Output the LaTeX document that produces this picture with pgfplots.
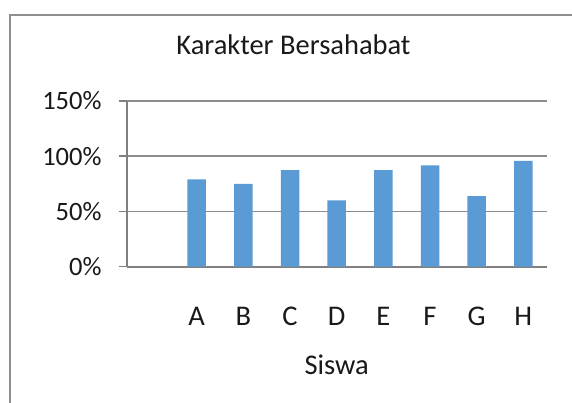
\documentclass[border=0pt]{standalone}
\usepackage{fontspec}
\setmainfont{Carlito}
\usepackage{pgfplots}
\pgfplotsset{compat=1.18}
\definecolor{barblue}{HTML}{5B9BD5}
\definecolor{gridgray}{HTML}{8C8C8C}
\definecolor{axisgray}{HTML}{808080}
\definecolor{framegray}{HTML}{8F8F8F}

\begin{document}
\begin{tikzpicture}
\useasboundingbox (0,0) rectangle (572bp,403bp);
\fill[white] (0,0) rectangle (572bp,403bp);
\draw[framegray, line width=2bp] (10bp,-2bp) -- (10bp,388bp) -- (574bp,388bp);
\begin{axis}[
  at={(126.7bp,136.3bp)}, anchor=south west,
  scale only axis, width=420bp, height=165.7bp,
  xmin=-0.5, xmax=8.5, ymin=0, ymax=150,
  ybar, bar width=18.5bp,
  xtick={1,2,3,4,5,6,7,8},
  xticklabels={A,B,C,D,E,F,G,H},
  ytick={0,50,100,150},
  yticklabels={0\%,50\%,100\%,150\%},
  axis x line*=bottom, axis y line*=left,
  axis line style={-, axisgray, line width=2bp},
  ymajorgrids, grid style={gridgray, line width=1.5bp},
  tick align=outside, major tick length=8bp,
  ytick style={axisgray, line width=1.5bp},
  xtick style={draw=none},
  tick label style={font=\fontsize{26.5bp}{30bp}\selectfont, text=black!90},
  yticklabel style={anchor=east, inner sep=0pt, xshift=-17bp},
  xticklabel style={anchor=base, inner sep=0pt, yshift=-51bp,
    font=\fontsize{28.5bp}{32bp}\selectfont},
  xlabel={Siswa},
  xlabel style={at={(axis description cs:0.5,0)}, anchor=base, inner sep=0pt,
    yshift=-108bp, font=\fontsize{28.5bp}{32bp}\selectfont, text=black!90},
  title={Karakter Bersahabat},
  title style={at={(axis description cs:0.397,1.2475)}, anchor=base, inner sep=0pt,
    font=\fontsize{28.5bp}{32bp}\selectfont, text=black!90},
  clip=false]
\addplot[fill=barblue, draw=none] coordinates {
  (1,79) (2,75) (3,87.5) (4,60) (5,87.5) (6,91.7) (7,64) (8,95.8)};
\end{axis}
\end{tikzpicture}
\end{document}
